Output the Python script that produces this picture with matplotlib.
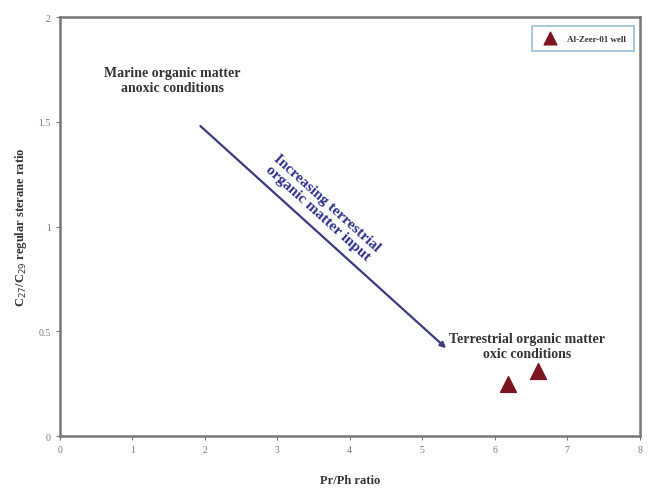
import matplotlib.pyplot as plt

plt.rcParams['font.family'] = ['Liberation Serif', 'DejaVu Serif']

# sample points (Pr/Ph vs C27/C29 sterane ratio)
pr_ph = [6.18, 6.60]
c27_c29 = [0.25, 0.31]
well_name = 'Al-Zeer-01 well'

# trend arrow end points
arrow_start = (1.94, 1.48)
arrow_end = (5.33, 0.42)

xticks = [0, 1, 2, 3, 4, 5, 6, 7, 8]
yticks = [0, 0.5, 1, 1.5, 2]
ytick_labels = ['0', '0.5', '1', '1.5', '2']

fig = plt.figure(figsize=(6.5, 4.89), dpi=100)
ax = fig.add_axes([0.092, 0.106, 0.892, 0.857])

ax.scatter(pr_ph, c27_c29, marker='^', s=130, color='#7d1520', zorder=3, label=well_name)

# trend arrow
ax.annotate('', xy=arrow_end, xytext=arrow_start,
            arrowprops=dict(arrowstyle='-|>', color='#3a3a80', lw=1.6,
                            mutation_scale=8, shrinkA=0, shrinkB=0))

ax.text(1.55, 1.70, 'Marine organic matter\nanoxic conditions', ha='center', va='center',
        fontsize=10, fontweight='bold', color='#333333')
ax.text(6.45, 0.43, 'Terrestrial organic matter\noxic conditions', ha='center', va='center',
        fontsize=10, fontweight='bold', color='#333333')
ax.text(3.62, 1.09, 'Increasing terrestrial\norganic matter input', ha='center', va='center',
        rotation=-42, rotation_mode='anchor', fontsize=11, fontweight='bold',
        color='#2e2e8c', linespacing=1.0)

ax.set_xlim(0, 8)
ax.set_ylim(0, 2)
ax.set_xticks(xticks)
ax.set_yticks(yticks)
ax.set_yticklabels(ytick_labels)
ax.tick_params(labelsize=7, colors='#777777', length=3, width=0.8)
for s in ax.spines.values():
    s.set_color('#777777')
    s.set_linewidth(1.8)

ax.set_xlabel('Pr/Ph ratio', fontsize=9, fontweight='bold', color='#333333', labelpad=14)
ax.set_ylabel('C$_{27}$/C$_{29}$ regular sterane ratio', fontsize=9, fontweight='bold',
              color='#333333', labelpad=7)

leg = ax.legend(loc='upper right', fontsize=6.5, frameon=True, fancybox=False,
                borderpad=0.9, handletextpad=0.9, markerscale=0.8, borderaxespad=0,
                bbox_to_anchor=(0.99, 0.978))
leg.get_frame().set_edgecolor('#7fb0c8')
leg.get_frame().set_linewidth(1.2)
for t in leg.get_texts():
    t.set_fontweight('bold')
    t.set_color('#333333')

fig.savefig('out.png', dpi=100)
